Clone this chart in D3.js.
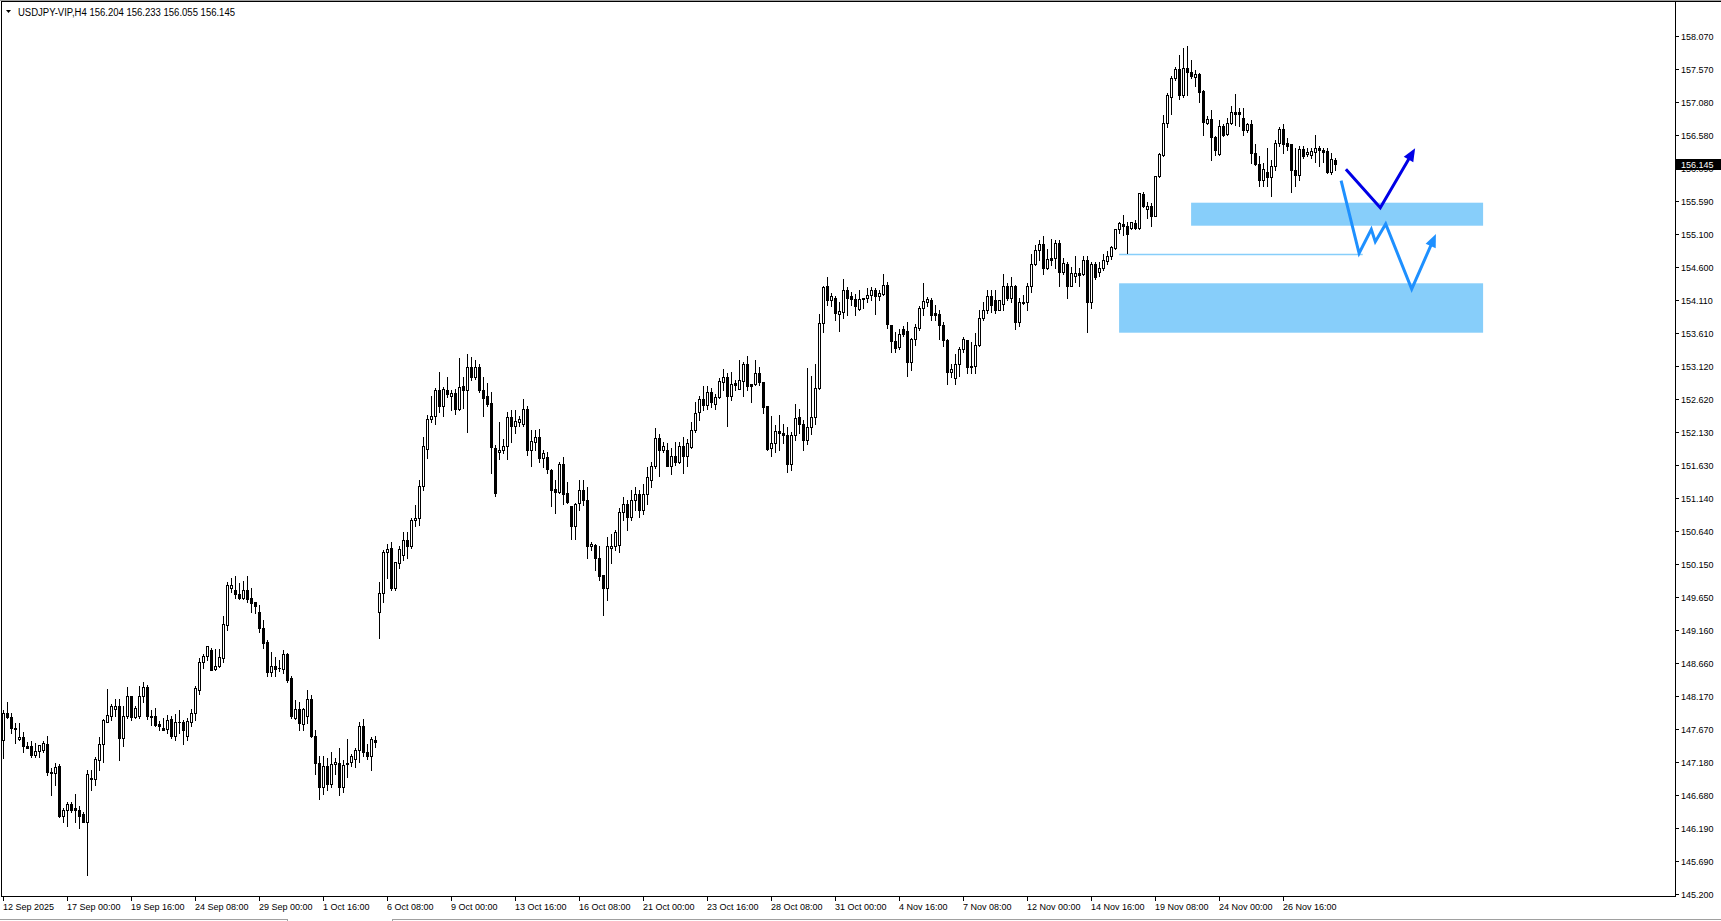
<!DOCTYPE html>
<html><head><meta charset="utf-8">
<script src="https://cdn.jsdelivr.net/npm/d3@7"></script>
<style>
html,body{margin:0;padding:0;background:#fff;overflow:hidden}
svg{display:block}
text{font-family:"Liberation Sans",Arial,sans-serif}
</style></head><body>
<svg id="c" width="1721" height="921"></svg>
<script>
// ---------- DATA ----------
const symbolTitle = "USDJPY-VIP,H4  156.204 156.233 156.055 156.145";
const barOpen = [
147.51,147.91,147.85,147.68,147.52,147.55,147.42,147.42,147.28,147.34,
147.36,147.45,147.03,147.01,147.12,146.36,146.45,146.55,146.48,146.46,
146.39,146.28,146.93,146.92,147.21,147.44,147.78,147.86,147.97,148.02,
147.53,147.87,148.17,147.85,147.86,148.17,148.30,147.87,147.86,147.75,
147.69,147.67,147.82,147.56,147.78,147.78,147.56,147.77,147.91,148.25,
148.67,148.76,148.86,148.57,148.61,148.74,149.23,149.79,149.76,149.70,
149.64,149.76,149.64,149.57,149.42,149.19,148.97,148.53,148.62,148.58,
148.57,148.80,148.43,147.84,147.97,147.74,147.86,148.12,147.57,147.16,
146.80,147.12,146.85,147.15,147.16,146.80,147.14,147.17,147.22,147.35,
147.72,147.33,147.26,147.51,149.43,149.71,150.32,150.38,149.78,150.16,
150.28,150.51,150.42,150.80,150.83,151.32,151.87,152.32,152.37,152.76,
152.51,152.76,152.66,152.71,152.47,152.82,152.75,153.10,152.95,153.10,
152.76,152.66,152.56,151.88,151.82,151.85,151.91,152.35,152.21,152.28,
152.25,152.47,151.86,151.98,152.05,151.74,151.75,151.56,151.27,151.22,
151.64,151.21,151.02,150.71,151.06,151.26,151.11,150.41,150.43,150.23,
149.98,149.78,150.38,150.41,150.43,150.93,151.05,150.85,151.10,151.20,
150.95,151.20,151.41,151.61,152.03,151.85,151.86,151.62,151.76,151.68,
151.92,151.77,151.90,152.15,152.42,152.62,152.53,152.72,152.54,152.65,
152.88,152.95,152.67,152.86,152.77,152.89,153.14,152.84,152.84,153.01,
152.87,152.51,151.88,151.96,152.14,152.11,152.08,151.64,152.08,152.35,
152.25,152.00,152.20,152.35,152.78,153.76,154.32,154.10,154.14,153.89,
153.93,154.26,154.16,154.12,153.97,154.12,154.13,154.18,154.26,154.17,
154.20,154.33,153.73,153.49,153.40,153.67,153.64,153.17,153.52,153.69,
153.98,154.07,154.11,153.91,153.90,153.73,153.51,153.02,152.93,153.14,
153.37,153.51,153.10,153.11,153.43,153.83,153.95,154.17,154.11,153.96,
154.04,154.32,154.13,154.32,153.77,154.08,154.07,154.32,154.64,154.85,
154.95,154.59,154.73,154.73,154.96,154.53,154.65,154.32,154.47,154.51,
154.49,154.71,154.08,154.65,154.52,154.58,154.69,154.77,154.88,155.17,
155.24,155.22,155.18,155.26,155.18,155.69,155.47,155.51,155.37,155.96,
156.28,156.76,157.15,157.43,157.57,157.18,157.58,157.52,157.45,157.49,
157.24,156.76,156.82,156.55,156.29,156.72,156.60,156.76,156.93,156.92,
156.83,156.65,156.74,156.31,156.15,155.90,156.02,155.95,156.12,156.46,
156.67,156.46,156.44,156.06,155.98,156.37,156.29,156.28,156.33,156.39,
156.36,156.34,156.02,156.204];
const barHigh = [
147.95,148.07,147.91,147.76,147.76,147.62,147.48,147.49,147.46,147.43,
147.49,147.56,147.08,147.16,147.15,146.48,146.58,146.57,146.70,146.51,
146.42,147.06,147.06,147.25,147.55,147.82,148.27,148.05,148.12,148.12,
148.02,148.30,148.17,148.01,148.31,148.37,148.33,147.96,147.99,147.79,
147.83,147.88,147.86,147.90,147.95,147.80,147.83,147.97,148.31,148.73,
148.80,148.92,148.88,148.87,148.87,149.37,149.87,149.93,149.97,149.86,
149.89,149.97,149.78,149.58,149.53,149.30,149.00,148.83,148.75,148.71,
148.86,148.81,148.46,148.11,148.08,147.98,148.25,148.18,147.66,147.26,
147.26,147.23,147.32,147.23,147.38,147.20,147.52,147.29,147.38,147.77,
147.82,147.44,147.55,147.56,149.87,150.36,150.45,150.48,150.17,150.41,
150.62,150.62,150.83,151.03,151.41,152.05,152.38,152.66,152.78,153.02,
152.80,152.95,152.76,152.77,153.23,152.95,153.30,153.25,153.20,153.15,
152.95,152.86,152.72,151.93,152.28,152.02,152.43,152.46,152.45,152.36,
152.62,152.52,152.15,152.16,152.17,151.86,151.82,151.57,151.41,151.68,
151.75,151.38,151.02,151.06,151.40,151.40,151.30,150.48,150.45,150.41,
149.98,150.55,150.60,150.66,150.99,151.15,151.10,151.25,151.30,151.25,
151.35,151.60,151.68,152.19,152.10,151.98,151.96,151.88,151.97,151.97,
152.05,152.02,152.27,152.57,152.66,152.81,152.81,152.78,152.70,152.93,
153.07,153.01,153.03,152.90,153.20,153.18,153.27,152.84,153.21,153.10,
152.88,152.52,152.37,152.23,152.38,152.24,152.20,152.13,152.54,152.47,
152.30,153.08,152.96,153.15,153.90,154.31,154.45,154.21,154.17,154.08,
154.42,154.30,154.23,154.20,154.26,154.13,154.28,154.30,154.28,154.26,
154.50,154.37,153.73,153.62,153.67,153.71,153.77,153.54,153.74,154.01,
154.36,154.15,154.13,154.03,153.96,153.78,153.52,153.15,153.30,153.40,
153.55,153.51,153.48,153.61,153.96,154.08,154.25,154.25,154.25,154.11,
154.50,154.36,154.45,154.33,154.13,154.18,154.36,154.80,154.93,155.01,
155.06,154.87,155.02,155.01,155.01,154.73,154.68,154.60,154.76,154.58,
154.76,154.77,154.67,154.67,154.67,154.80,154.84,154.91,155.17,155.28,
155.38,155.28,155.27,155.31,155.71,155.73,155.57,155.56,155.97,156.31,
156.88,157.21,157.47,157.60,157.78,157.88,157.91,157.70,157.56,157.51,
157.25,156.87,156.96,156.56,156.81,156.74,156.83,157.01,157.20,156.98,
156.98,156.76,156.81,156.45,156.26,156.16,156.38,156.21,156.51,156.70,
156.75,156.53,156.45,156.38,156.41,156.41,156.38,156.38,156.58,156.42,
156.38,156.39,156.31,156.233];
const barLow = [
147.23,147.84,147.61,147.46,147.51,147.33,147.38,147.25,147.25,147.25,
147.33,146.98,146.68,146.83,146.35,146.28,146.21,146.43,146.28,146.19,
146.27,145.48,146.76,146.83,147.06,147.17,147.78,147.81,147.86,147.20,
147.42,147.83,147.81,147.83,147.83,148.08,147.82,147.73,147.72,147.65,
147.65,147.61,147.53,147.50,147.61,147.45,147.51,147.71,147.81,148.20,
148.59,148.70,148.55,148.55,148.60,148.68,149.15,149.73,149.63,149.62,
149.62,149.58,149.42,149.41,149.12,148.88,148.47,148.47,148.47,148.54,
148.51,148.38,147.83,147.82,147.65,147.66,147.76,147.55,147.00,146.62,
146.70,146.75,146.80,147.00,146.68,146.72,146.95,147.11,147.10,147.18,
147.27,147.22,147.05,147.40,149.04,149.58,149.93,149.76,149.75,150.08,
150.20,150.23,150.38,150.71,150.73,151.25,151.74,152.27,152.25,152.43,
152.37,152.65,152.45,152.40,152.46,152.48,152.12,152.90,152.92,152.72,
152.37,152.51,151.51,151.16,151.72,151.81,151.72,151.98,152.11,152.22,
152.21,151.78,151.62,151.86,151.67,151.60,151.51,151.01,150.91,151.21,
151.05,151.06,150.52,150.52,150.96,151.03,150.23,150.36,150.06,149.91,
149.38,149.61,150.16,150.36,150.33,150.80,150.65,150.80,150.95,150.85,
150.90,151.05,151.30,151.58,151.46,151.82,151.61,151.50,151.63,151.66,
151.51,151.61,151.88,152.12,152.31,152.45,152.47,152.50,152.47,152.64,
152.75,152.22,152.60,152.75,152.77,152.66,152.75,152.57,152.83,152.83,
152.41,151.85,151.76,151.82,151.85,151.96,151.53,151.55,152.00,152.11,
151.86,151.95,152.10,152.25,152.77,153.62,154.03,154.02,153.81,153.64,
153.83,153.88,154.03,153.88,153.95,153.99,154.07,154.10,153.89,154.11,
154.18,153.68,153.33,153.32,153.37,153.56,152.96,153.06,153.43,153.66,
153.88,154.01,153.81,153.80,153.52,153.41,152.85,152.95,152.85,152.96,
153.33,153.01,153.01,153.01,153.42,153.81,153.91,153.93,153.91,153.96,
153.96,154.11,154.08,153.67,153.71,154.05,153.96,154.23,154.63,154.70,
154.50,154.57,154.63,154.58,154.32,154.49,154.13,154.31,154.38,154.31,
154.48,153.62,153.98,154.42,154.47,154.55,154.65,154.72,154.87,155.11,
155.08,154.81,155.17,155.17,155.17,155.50,155.33,155.21,155.36,155.95,
156.27,156.70,156.90,157.41,157.12,157.15,157.18,157.43,157.31,157.08,
156.58,156.75,156.20,156.28,156.28,156.56,156.58,156.75,156.73,156.72,
156.58,156.63,156.16,156.13,155.82,155.82,155.81,155.66,156.06,156.41,
156.31,156.36,155.72,155.81,155.91,156.23,156.26,156.23,156.18,156.11,
156.18,156.01,156.00,156.055];
const barClose = [
147.91,147.85,147.68,147.67,147.55,147.41,147.39,147.28,147.34,147.43,
147.46,147.02,147.01,147.10,146.36,146.46,146.55,146.45,146.46,146.37,
146.28,146.99,146.92,147.22,147.44,147.80,147.88,148.01,148.02,147.53,
147.87,148.17,147.85,147.98,148.17,148.30,147.86,147.85,147.73,147.72,
147.66,147.81,147.57,147.78,147.77,147.65,147.79,147.91,148.28,148.68,
148.77,148.91,148.56,148.61,148.75,149.25,149.83,149.83,149.69,149.64,
149.76,149.62,149.56,149.51,149.18,148.96,148.53,148.62,148.57,148.59,
148.79,148.40,147.86,147.97,147.76,147.97,148.12,147.56,147.16,146.80,
147.12,146.85,147.15,147.18,146.80,147.13,147.16,147.26,147.36,147.72,
147.33,147.26,147.52,147.47,149.71,150.32,150.37,149.78,150.17,150.37,
150.51,150.41,150.81,150.83,151.32,151.91,152.32,152.36,152.76,152.51,
152.77,152.70,152.71,152.47,152.80,152.76,153.10,152.95,153.10,152.76,
152.63,152.55,151.90,151.21,151.86,151.92,152.35,152.21,152.29,152.32,
152.47,151.86,151.99,152.05,151.74,151.81,151.57,151.25,151.22,151.64,
151.19,151.07,150.71,151.04,151.26,151.11,150.41,150.45,150.23,149.96,
149.78,150.41,150.42,150.63,150.93,151.05,150.85,151.10,151.20,150.95,
151.20,151.45,151.61,152.03,151.85,151.92,151.62,151.76,151.68,151.92,
151.76,151.96,152.15,152.41,152.62,152.53,152.72,152.58,152.65,152.89,
152.95,152.67,152.84,152.83,152.91,153.14,152.82,152.82,153.01,152.87,
152.50,151.87,151.96,152.14,152.11,152.08,151.64,152.08,152.33,152.25,
152.00,152.20,152.35,152.78,153.76,154.30,154.10,154.17,153.91,153.94,
154.26,154.14,154.12,154.01,154.12,154.13,154.18,154.26,154.17,154.21,
154.33,153.74,153.49,153.39,153.60,153.60,153.17,153.52,153.70,153.98,
154.09,154.12,153.88,153.88,153.73,153.51,153.02,153.07,153.14,153.37,
153.52,153.10,153.11,153.43,153.83,153.96,154.17,154.03,153.96,154.11,
154.32,154.13,154.32,153.77,154.07,154.06,154.32,154.65,154.85,154.95,
154.59,154.72,154.71,154.96,154.53,154.66,154.32,154.51,154.51,154.48,
154.71,154.08,154.65,154.45,154.58,154.70,154.77,154.90,155.17,155.26,
155.22,155.09,155.27,155.18,155.71,155.51,155.51,155.37,155.96,156.30,
156.76,157.18,157.43,157.57,157.18,157.58,157.52,157.46,157.49,157.23,
156.77,156.82,156.55,156.35,156.72,156.58,156.76,156.92,156.90,156.89,
156.65,156.74,156.31,156.15,155.90,156.07,155.95,156.12,156.46,156.67,
156.45,156.42,156.05,155.98,156.37,156.27,156.33,156.34,156.38,156.35,
156.32,156.02,156.22,156.145];

const timeTickBars = [0,16,32,48,64,80,96,112,128,144,160,176,192,208,224,240,256,272,288,304,320];
const timeTickLabels = ["12 Sep 2025","17 Sep 00:00","19 Sep 16:00","24 Sep 08:00","29 Sep 00:00",
"1 Oct 16:00","6 Oct 08:00","9 Oct 00:00","13 Oct 16:00","16 Oct 08:00","21 Oct 00:00",
"23 Oct 16:00","28 Oct 08:00","31 Oct 00:00","4 Nov 16:00","7 Nov 08:00","12 Nov 00:00",
"14 Nov 16:00","19 Nov 08:00","24 Nov 00:00","26 Nov 16:00"];
const priceTickLabels = ["158.070","157.570","157.080","156.580","156.090","155.590","155.100",
"154.600","154.110","153.610","153.120","152.620","152.130","151.630","151.140","150.640",
"150.150","149.650","149.160","148.660","148.170","147.670","147.180","146.680","146.190",
"145.690","145.200"];
const lastPrice = 156.145;
const lastPriceLabel = "156.145";

// drawn objects (bar index, price)
const zoneUpper = {bar0: 296.9, bar1: 369.9, top: 155.565, bottom: 155.22};
const zoneLower = {bar0: 278.9, bar1: 369.9, top: 154.356, bottom: 153.615};
const levelLine = {bar0: 278.9, bar1: 339.8, price: 154.80};
const arrowDarkBars   = [335.6, 344.2, 352.9];
const arrowDarkPrices = [156.066, 155.49, 156.381];
const arrowLightBars   = [334.4, 338.9, 341.95, 342.95, 345.55, 352.05, 358.1];
const arrowLightPrices = [155.895, 154.806, 155.166, 154.98, 155.246, 154.27, 155.095];

// ---------- CHART ----------
const W = 1721, H = 921;
const plotRight = 1675, plotBottom = 896;
const svg = d3.select("#c");
const N = barClose.length;
const x = d3.scaleLinear().domain([0, N - 1]).range([3.5, 3.5 + 4 * (N - 1)]);
const y = d3.scaleLinear().domain([145.2, 158.07]).range([893.7, 35.7]);

svg.append("rect").attr("width", W).attr("height", H).attr("fill", "#fff");

const plot = svg.append("g");
const clipId = "pc";
svg.append("clipPath").attr("id", clipId).append("rect")
  .attr("x", 2).attr("y", 2).attr("width", plotRight - 2).attr("height", plotBottom - 2);
plot.attr("clip-path", `url(#${clipId})`);

// zones
[zoneUpper, zoneLower].forEach(z => {
  plot.append("rect")
    .attr("x", x(z.bar0)).attr("width", x(z.bar1) - x(z.bar0))
    .attr("y", y(z.top)).attr("height", y(z.bottom) - y(z.top))
    .attr("fill", "#87CEFA");
});
plot.append("line")
  .attr("x1", x(levelLine.bar0)).attr("x2", x(levelLine.bar1))
  .attr("y1", Math.round(y(levelLine.price)) + 0.5).attr("y2", Math.round(y(levelLine.price)) + 0.5)
  .attr("stroke", "#87CEFA").attr("stroke-width", 1.5);

// candles
const bars = d3.range(N).map(i => ({i, o: barOpen[i], h: barHigh[i], l: barLow[i], c: barClose[i]}));
const cg = plot.append("g").attr("shape-rendering", "crispEdges");
bars.forEach(b => {
  const col = Math.floor(x(b.i));
  const yh = Math.round(y(b.h)), yl = Math.round(y(b.l));
  const yt = Math.round(y(Math.max(b.o, b.c))), yb = Math.round(y(Math.min(b.o, b.c)));
  cg.append("rect").attr("x", col).attr("y", yh).attr("width", 1).attr("height", Math.max(1, yl - yh + 1)).attr("fill", "#000");
  cg.append("rect").attr("x", col - 1).attr("y", yt).attr("width", 3).attr("height", Math.max(1, yb - yt + 1)).attr("fill", "#000");
  if (b.c > b.o && yb - yt >= 2) {
    cg.append("rect").attr("x", col).attr("y", yt + 1).attr("width", 1).attr("height", yb - yt - 1).attr("fill", "#fff");
  }
});

// arrows
function drawArrow(bs, ps, color) {
  const pts = bs.map((b, k) => [x(b), y(ps[k])]);
  const n = pts.length;
  const [tx, ty] = pts[n - 1], [px, py] = pts[n - 2];
  const ang = Math.atan2(ty - py, tx - px);
  const L = 13, Wd = 5.5;
  const bx = tx - L * Math.cos(ang), by = ty - L * Math.sin(ang);
  const linePts = pts.slice(0, n - 1).concat([[bx + 2 * Math.cos(ang), by + 2 * Math.sin(ang)]]);
  plot.append("path").attr("d", d3.line()(linePts))
    .attr("fill", "none").attr("stroke", color).attr("stroke-width", 3).attr("stroke-linejoin", "miter");
  const head = [[tx, ty],
    [bx + Wd * Math.sin(ang), by - Wd * Math.cos(ang)],
    [bx - Wd * Math.sin(ang), by + Wd * Math.cos(ang)]];
  plot.append("path").attr("d", d3.line()(head) + "Z").attr("fill", color);
}
drawArrow(arrowLightBars, arrowLightPrices, "#1E90FF");
drawArrow(arrowDarkBars, arrowDarkPrices, "#0000E6");

// frame
const fg = svg.append("g").attr("shape-rendering", "crispEdges");
fg.append("line").attr("x1", 0).attr("x2", W).attr("y1", 0.5).attr("y2", 0.5).attr("stroke", "#a0a0a0");
fg.append("line").attr("x1", 1.5).attr("x2", 1.5).attr("y1", 1).attr("y2", plotBottom).attr("stroke", "#000");
fg.append("line").attr("x1", 1).attr("x2", W).attr("y1", 1.5).attr("y2", 1.5).attr("stroke", "#000");
fg.append("line").attr("x1", plotRight + 0.5).attr("x2", plotRight + 0.5).attr("y1", 1).attr("y2", plotBottom + 1).attr("stroke", "#000");
fg.append("line").attr("x1", 1).attr("x2", plotRight + 1).attr("y1", plotBottom + 0.5).attr("y2", plotBottom + 0.5).attr("stroke", "#000");

// price axis
const pa = svg.append("g");
priceTickLabels.forEach(lbl => {
  const ty = Math.round(y(+lbl));
  pa.append("line").attr("x1", plotRight + 1).attr("x2", plotRight + 4)
    .attr("y1", ty + 0.5).attr("y2", ty + 0.5).attr("stroke", "#000").attr("shape-rendering", "crispEdges");
  pa.append("text").attr("x", plotRight + 6).attr("y", ty + 3.5)
    .attr("font-size", 9).attr("fill", "#000").text(lbl);
});
const ly = Math.round(y(lastPrice));
pa.append("rect").attr("x", plotRight + 1).attr("y", ly - 5).attr("width", W - plotRight - 1).attr("height", 11)
  .attr("fill", "#000").attr("shape-rendering", "crispEdges");
pa.append("text").attr("x", plotRight + 6).attr("y", ly + 3.5)
  .attr("font-size", 9).attr("fill", "#fff").text(lastPriceLabel);

// time axis
const ta = svg.append("g");
timeTickBars.forEach((bi, k) => {
  const tx = Math.floor(x(bi));
  ta.append("line").attr("x1", tx + 0.5).attr("x2", tx + 0.5).attr("y1", plotBottom + 1).attr("y2", plotBottom + 5)
    .attr("stroke", "#000").attr("shape-rendering", "crispEdges");
  ta.append("text").attr("x", tx).attr("y", 910).attr("font-size", 9).attr("fill", "#000").text(timeTickLabels[k]);
});

// bottom tab strip
const tb = svg.append("g").attr("shape-rendering", "crispEdges").attr("stroke", "#a0a0a0");
tb.append("line").attr("x1", 0).attr("x2", 288).attr("y1", 919.5).attr("y2", 919.5);
tb.append("line").attr("x1", 287.5).attr("x2", 287.5).attr("y1", 919).attr("y2", 921);
tb.append("line").attr("x1", 392).attr("x2", W).attr("y1", 919.5).attr("y2", 919.5);
tb.append("line").attr("x1", 392.5).attr("x2", 392.5).attr("y1", 919).attr("y2", 921);

// title
svg.append("path").attr("d", "M6,10 L11,10 L8.5,13 Z").attr("fill", "#000");
svg.append("text").attr("x", 18).attr("y", 15.5).attr("font-size", 10).attr("fill", "#000")
  .attr("textLength", 217).attr("lengthAdjust", "spacingAndGlyphs").text(symbolTitle);
</script>
</body></html>
